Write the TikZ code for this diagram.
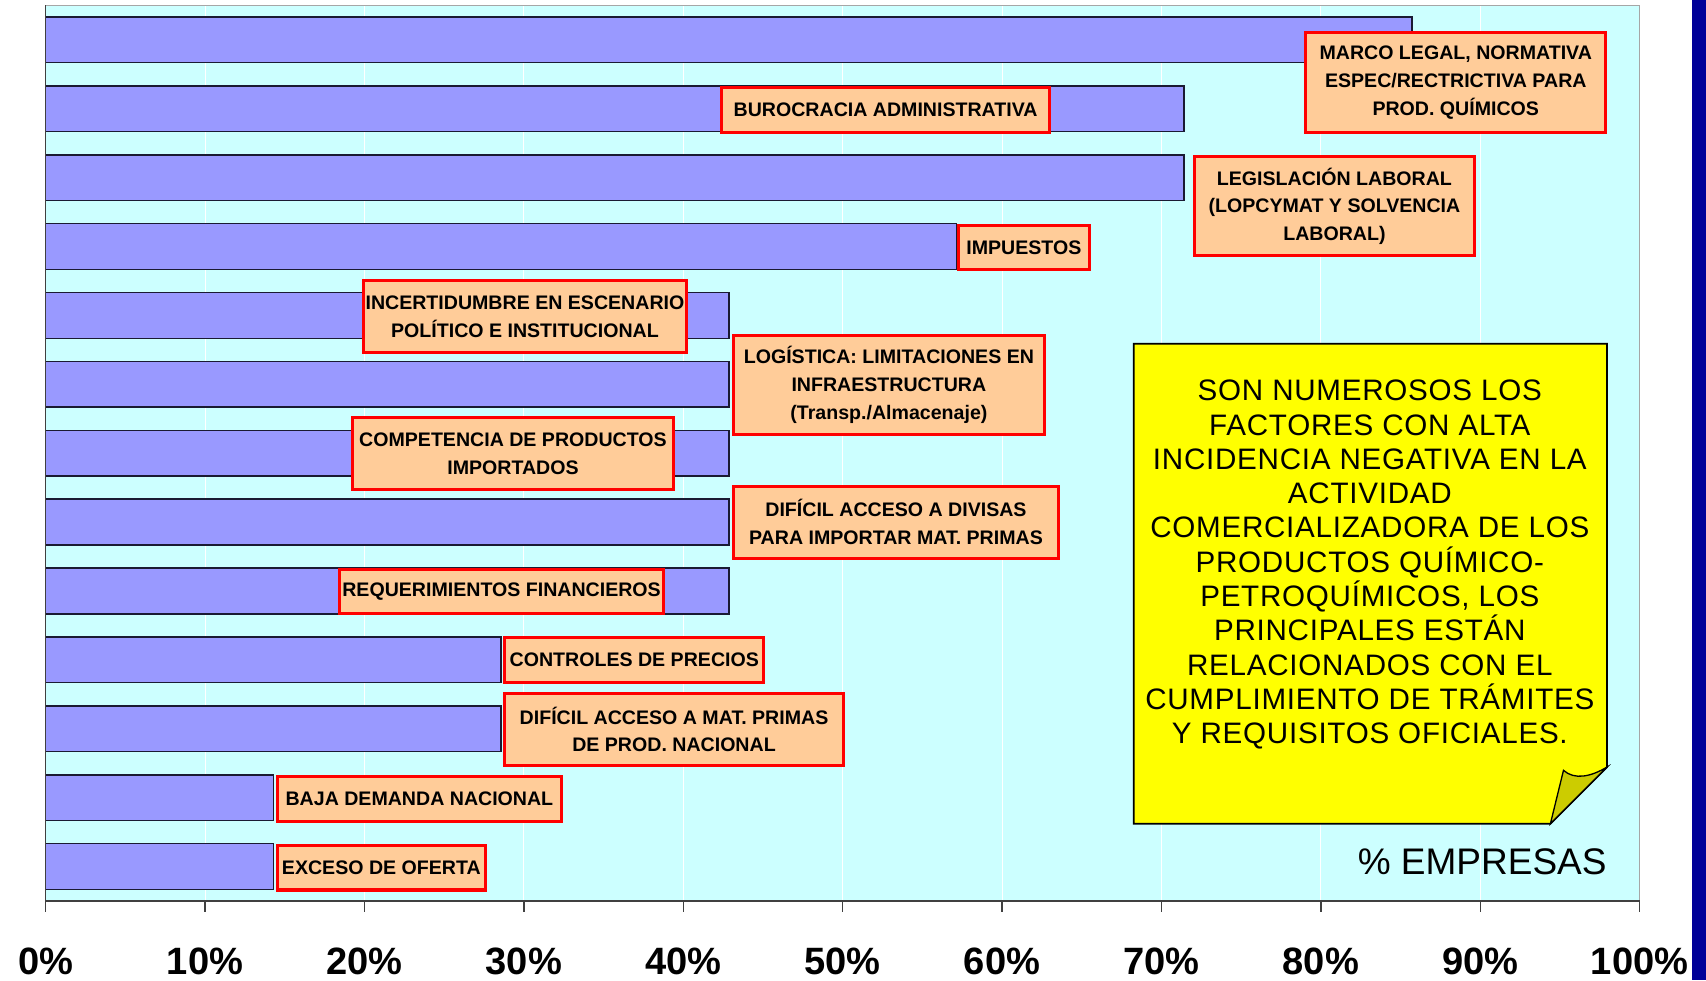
\documentclass[tikz,border=0pt]{standalone}
\usepackage{fontspec}
\setmainfont{Liberation Sans}
\definecolor{plotbg}{HTML}{CCFFFF}
\definecolor{barfill}{HTML}{9999FF}
\definecolor{baredge}{HTML}{1A1A33}
\definecolor{lblfill}{HTML}{FFCC99}
\definecolor{notefill}{HTML}{FFFF00}
\definecolor{foldfill}{HTML}{CCCC00}
\definecolor{stripblue}{HTML}{000099}
\begin{document}
\begin{tikzpicture}[x=0.5pt,y=-0.5pt,
  lbl/.style={draw=red, line width=1.4pt, fill=lblfill, align=center, inner sep=0pt,
    font=\fontsize{9}{12.75}\selectfont\bfseries},
  barbox/.style={fill=barfill, draw=baredge, line width=0.7pt},
  axline/.style={draw=black!75, line width=0.6pt},
  axlab/.style={font=\fontsize{17.5}{20}\selectfont\bfseries, anchor=base, inner sep=0pt},
  notetext/.style={align=center, inner sep=0pt,
    font=\fontsize{13.6}{15.75}\selectfont\addfontfeatures{LetterSpace=2.5}}]
\useasboundingbox (0,0) rectangle (1568,901);
\fill[white] (0,0) rectangle (1568,901);
% plot area
\fill[plotbg] (42,5) rectangle (1507,828);
\foreach \k in {1,...,9}
  \draw[white, line width=0.5pt] ({42+146.5*\k},5) -- ({42+146.5*\k},828);
\draw[gray!70, line width=0.6pt] (42,5) -- (1507,5) -- (1507,828);
% bars
\foreach \v [count=\i from 0] in {6,5,5,4,3,3,3,3,3,2,2,1,1}
  \draw[barbox] (42,{5+63.31*\i+10.65}) rectangle ({42+1465*\v/7},{5+63.31*\i+52.65});
% axis
\draw[axline] (42,5) -- (42,828) -- (1507,828);
\foreach \k/\t in {0/0,1/10,2/20,3/30,4/40,5/50,6/60,7/70,8/80,9/90,10/100} {
  \draw[axline] ({42+146.5*\k},828) -- ({42+146.5*\k},838);
  \node[axlab] (t\k) at ({42+146.5*\k},896) {\t\%};
}
% labels
\node[lbl, minimum width=138pt, minimum height=46pt] (marco) at (1338,76)
  {MARCO LEGAL, NORMATIVA\\ESPEC/RECTRICTIVA PARA\\PROD. QUÍMICOS};
\node[lbl, minimum width=151pt, minimum height=21pt] (buro) at (814,101)
  {BUROCRACIA ADMINISTRATIVA};
\node[lbl, minimum width=128.5pt, minimum height=45.5pt] (legis) at (1226.5,189.5)
  {LEGISLACIÓN LABORAL\\(LOPCYMAT Y SOLVENCIA\\LABORAL)};
\node[lbl, minimum width=60pt, minimum height=20.5pt] (impu) at (941,227.5)
  {IMPUESTOS};
\node[lbl, minimum width=148.5pt, minimum height=33pt] (incert) at (482.5,291)
  {INCERTIDUMBRE EN ESCENARIO\\POLÍTICO E INSTITUCIONAL};
\node[lbl, minimum width=143pt, minimum height=45.5pt] (logis) at (817,353.5)
  {LOGÍSTICA: LIMITACIONES EN\\INFRAESTRUCTURA\\(Transp./Almacenaje)};
\node[lbl, minimum width=147.5pt, minimum height=33pt] (compet) at (471.5,417)
  {COMPETENCIA DE PRODUCTOS\\IMPORTADOS};
\node[lbl, minimum width=149.5pt, minimum height=33pt] (divisas) at (823.5,480)
  {DIFÍCIL ACCESO A DIVISAS\\PARA IMPORTAR MAT. PRIMAS};
\node[lbl, minimum width=149pt, minimum height=20.5pt] (reqfin) at (461,543.5)
  {REQUERIMIENTOS FINANCIEROS};
\node[lbl, minimum width=119pt, minimum height=20.5pt] (controles) at (583,606.5)
  {CONTROLES DE PRECIOS};
\node[lbl, minimum width=155.5pt, minimum height=33.5pt] (matprim) at (619.5,670.5)
  {DIFÍCIL ACCESO A MAT. PRIMAS\\DE PROD. NACIONAL};
\node[lbl, minimum width=130.5pt, minimum height=20.5pt] (baja) at (385.5,734.5)
  {BAJA DEMANDA NACIONAL};
\node[lbl, minimum width=95.5pt, minimum height=20.5pt] (exceso) at (350.5,797.5)
  {EXCESO DE OFERTA};
% note
\filldraw[fill=notefill, draw=black, line width=0.8pt]
  (1042,316) -- (1477,316) -- (1477,705) -- (1425,757) -- (1042,757) -- cycle;
\filldraw[fill=foldfill, draw=black, line width=0.6pt]
  (1425,757) -- (1437,708) .. controls (1447,717) and (1462,714) .. (1477,705) -- cycle;
\node[notetext, anchor=north] (note) at (1259,349)
  {SON NUMEROSOS LOS\\FACTORES CON ALTA\\INCIDENCIA NEGATIVA EN LA\\ACTIVIDAD\\COMERCIALIZADORA DE LOS\\PRODUCTOS QUÍMICO-\\PETROQUÍMICOS, LOS\\PRINCIPALES ESTÁN\\RELACIONADOS CON EL\\CUMPLIMIENTO DE TRÁMITES\\Y REQUISITOS OFICIALES.};
\node[font=\fontsize{17}{20}\selectfont, anchor=base east, inner sep=0pt] (unit) at (1477,804) {\% EMPRESAS};
% right strip
\fill[stripblue] (1555,0) rectangle (1568,901);
\end{tikzpicture}
\end{document}
